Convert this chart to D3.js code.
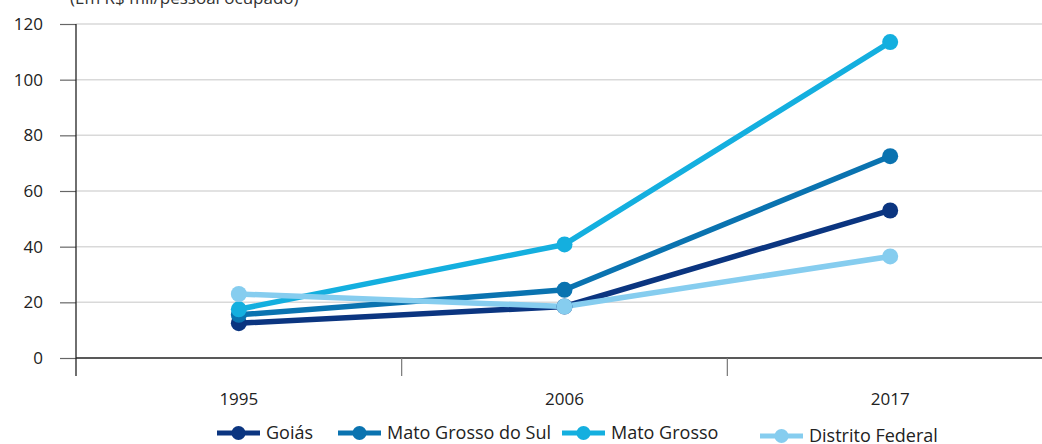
<!DOCTYPE html>
<html>
<head>
<meta charset="utf-8">
<script src="https://cdn.jsdelivr.net/npm/d3@7"></script>
<style>
  html, body { margin: 0; padding: 0; background: #fff; }
  svg { display: block; font-family: "Open Sans", sans-serif; }
</style>
</head>
<body>
<svg id="chart" width="1042" height="444"></svg>
<script>
const years = ["1995", "2006", "2017"];
const yTicks = [0, 20, 40, 60, 80, 100, 120];
const seriesNames = ["Goiás", "Mato Grosso do Sul", "Mato Grosso", "Distrito Federal"];
const goias = [12.5, 18.5, 53];
const matoGrossoDoSul = [15.5, 24.5, 72.5];
const matoGrosso = [17.5, 40.8, 113.5];
const distritoFederal = [23, 18.5, 36.5];
const colors = ["#0b3580", "#0a73b0", "#14afdf", "#86cdef"];
const subtitle = "(Em R$ mil/pessoal ocupado)";

const seriesValues = [goias, matoGrossoDoSul, matoGrosso, distritoFederal];
const series = seriesNames.map((name, i) => ({ name, color: colors[i], values: seriesValues[i] }));

const svg = d3.select("#chart");
const mLeft = 76, mRight = 1053, mTop = 24, mBottom = 358;

const x = d3.scaleBand().domain(years).range([mLeft, mRight]).padding(0);
const y = d3.scaleLinear().domain([0, 120]).range([mBottom, mTop]);

// subtitle (cut at top)
svg.append("text").attr("x", 70).attr("y", 4).attr("font-size", 17).attr("fill", "#333").text(subtitle);

// gridlines
svg.append("g").selectAll("line").data(yTicks.filter(d => d > 0)).join("line")
  .attr("x1", mLeft).attr("x2", 1042)
  .attr("y1", d => y(d)).attr("y2", d => y(d))
  .attr("stroke", "#d9d9d9").attr("stroke-width", 1.5);

// y axis
const yAxis = svg.append("g").attr("transform", `translate(${mLeft},0)`)
  .call(d3.axisLeft(y).tickValues(yTicks).tickSize(16).tickPadding(17));
yAxis.select(".domain").remove();
yAxis.selectAll(".tick line").attr("stroke", "#666").attr("stroke-width", 1.2);
yAxis.selectAll(".tick text").attr("font-size", 17).attr("fill", "#222").attr("font-family", "Open Sans, sans-serif");
svg.append("line").attr("x1", mLeft).attr("x2", mLeft).attr("y1", mTop).attr("y2", 376)
  .attr("stroke", "#222").attr("stroke-width", 1.3);

// x axis
const xAxis = svg.append("g").attr("transform", `translate(0,${mBottom})`)
  .call(d3.axisBottom(x).tickSize(0).tickPadding(35));
xAxis.select(".domain").remove();
xAxis.selectAll(".tick text").attr("font-size", 17).attr("fill", "#222").attr("font-family", "Open Sans, sans-serif");
svg.append("line").attr("x1", mLeft).attr("x2", 1042).attr("y1", mBottom).attr("y2", mBottom)
  .attr("stroke", "#222").attr("stroke-width", 1.5);
svg.append("g").selectAll("line").data(years.slice(1)).join("line")
  .attr("x1", d => x(d)).attr("x2", d => x(d))
  .attr("y1", mBottom).attr("y2", 376)
  .attr("stroke", "#777").attr("stroke-width", 1.2);

// lines
const line = d3.line().x((d, i) => x(years[i]) + x.bandwidth() / 2).y(d => y(d));
const g = svg.append("g");
series.forEach(s => {
  g.append("path").datum(s.values).attr("d", line)
    .attr("fill", "none").attr("stroke", s.color).attr("stroke-width", 5.5).attr("stroke-linejoin", "round");
});
series.forEach(s => {
  g.selectAll(null).data(s.values).join("circle")
    .attr("cx", (d, i) => x(years[i]) + x.bandwidth() / 2)
    .attr("cy", d => y(d)).attr("r", 8).attr("fill", s.color);
});

// legend
const legendX = [217, 338, 562, 760];
const legendDy = [0, 0, 0, 3];
const leg = svg.append("g");
series.forEach((s, i) => {
  const ly = 433 + legendDy[i];
  const gi = leg.append("g").attr("transform", `translate(${legendX[i]},${ly})`);
  gi.append("line").attr("x1", 0).attr("x2", 43).attr("y1", 0).attr("y2", 0)
    .attr("stroke", s.color).attr("stroke-width", 5);
  gi.append("circle").attr("cx", 21.5).attr("cy", 0).attr("r", 7).attr("fill", s.color);
  gi.append("text").attr("x", 49).attr("y", 0).attr("dy", "0.35em")
    .attr("font-size", 18).attr("fill", "#222").text(s.name);
});
</script>
</body>
</html>
